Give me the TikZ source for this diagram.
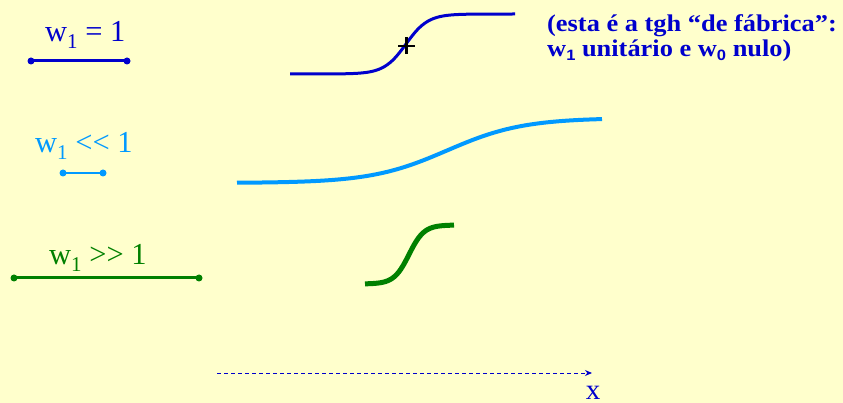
\documentclass[tikz,border=0pt]{standalone}
\usepackage{fontspec}
\setmainfont{Liberation Serif}
\newfontfamily\noteserif[FakeStretch=1.1]{Liberation Serif}
\newfontfamily\sansbold[FakeStretch=1.1,BoldFont={Liberation Sans Bold}]{Liberation Sans}
\usetikzlibrary{arrows.meta}
\definecolor{bgyellow}{HTML}{FFFFCC}
\definecolor{dkblue}{HTML}{0000CC}
\definecolor{ltblue}{HTML}{0099FF}
\definecolor{dkgreen}{HTML}{008000}
\newcommand\lowsub[1]{\raisebox{-7pt}{\fontsize{21}{21}\selectfont #1}}
\newcommand\boldsub[1]{\raisebox{-4pt}{\sansbold\bfseries\fontsize{15}{15}\selectfont #1}}
\tikzset{
  lbl/.style={anchor=base west, inner sep=0pt, font=\fontsize{30.5}{36}\selectfont},
  dotnode/.style={circle, inner sep=0pt, minimum size=7pt, fill=#1},
  seg/.style={line width=3pt},
  note/.style={anchor=base west, inner sep=0pt, text=dkblue, font=\noteserif\bfseries\fontsize{24}{28}\selectfont}
}
\begin{document}
\begin{tikzpicture}[x=1pt,y=-1pt]
\fill[bgyellow] (0,0) rectangle (843,403);
\useasboundingbox (0,0) rectangle (843,403);

% w1 = 1
\node[lbl, text=dkblue] (lab1) at (45,42) {w\lowsub{1} = 1};
\node[dotnode=dkblue] (b1) at (31,61) {};
\node[dotnode=dkblue] (b2) at (127,61) {};
\draw[seg, dkblue] (b1.center) -- (b2.center);

% w1 << 1
\node[lbl, text=ltblue] (lab2) at (35,153) {w\lowsub{1} {<}{<} 1};
\node[dotnode=ltblue] (c1) at (63,173) {};
\node[dotnode=ltblue] (c2) at (103,173) {};
\draw[line width=2.5pt, ltblue] (c1.center) -- (c2.center);

% w1 >> 1
\node[lbl, text=dkgreen] (lab3) at (49,265) {w\lowsub{1} {>}{>} 1};
\node[dotnode=dkgreen] (g1) at (14,278) {};
\node[dotnode=dkgreen] (g2) at (199,278) {};
\draw[seg, dkgreen] (g1.center) -- (g2.center);

% curves
\draw[dkblue, line width=3pt] plot[domain=290:515, samples=100] (\x, {44-30*tanh((\x-406)/22)});
\draw[ltblue, line width=4pt] plot[domain=237:602, samples=100] (\x, {150.5-32.5*tanh((\x-447)/76)});
\draw[dkgreen, line width=5pt] plot[domain=365:454, samples=80] (\x, {254.5-29.5*tanh((\x-409)/15)});

% cross
\draw[black, line width=2.5pt] (398,46) -- (415,46) (406.5,37) -- (406.5,54);

% note
\node[note] (n1) at (547,31.5) {(esta é a tgh “de fábrica”:};
\node[note] (n2) at (547,56.5) {w\boldsub{1} unitário e w\boldsub{0} nulo)};

% x axis
\coordinate (xs) at (217,373);
\coordinate (xe) at (592,373);
\draw[dkblue, line width=1pt, dash pattern=on 4pt off 3pt, -{Stealth[length=7pt,width=6pt]}] (xs) -- (xe);
\node[anchor=base, inner sep=0pt, text=dkblue, font=\fontsize{29}{34}\selectfont] (xl) at (593,399.5) {x};
\end{tikzpicture}
\end{document}
